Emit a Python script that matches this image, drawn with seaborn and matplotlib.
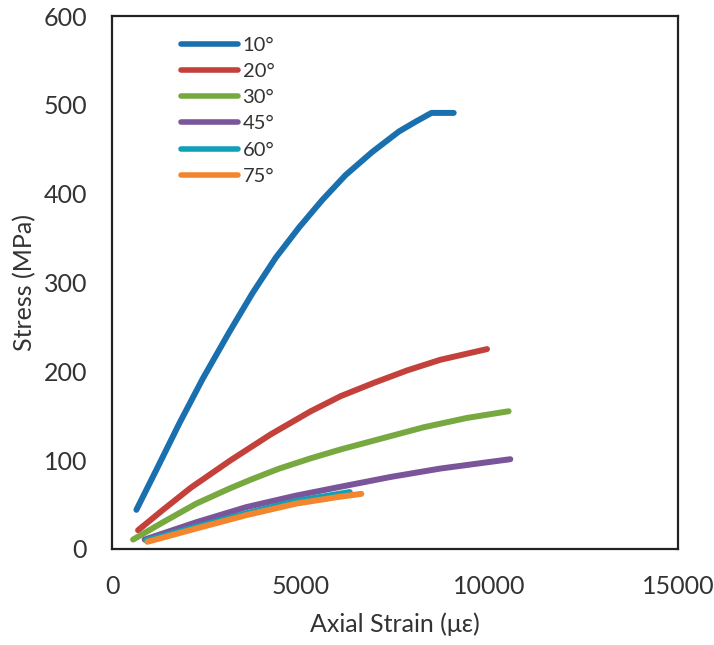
import pandas as pd
import matplotlib
matplotlib.use("Agg")
import matplotlib.pyplot as plt
import seaborn as sns

# values
angles = ["10°", "20°", "30°", "45°", "60°", "75°"]
colors = ["#1a70ae", "#c4403b", "#78a941", "#7b559a", "#12a0b8", "#f3852f"]

strain_10 = [644, 1173, 1790, 2407, 3104, 3721, 4339, 4956, 5573, 6190, 6896, 7602, 8042, 8466, 9056]
stress_10 = [44, 89, 142, 192, 244, 288, 328, 362, 393, 421, 447, 470, 481, 491, 491]

strain_20 = [688, 1349, 2090, 3148, 4206, 5265, 6058, 6940, 7822, 8704, 9939]
stress_20 = [21, 44, 69, 100, 129, 155, 172, 187, 201, 213, 225]

strain_30 = [556, 1349, 2231, 3113, 3677, 4400, 5265, 6058, 7116, 8263, 9409, 10512]
stress_30 = [10.5, 30, 51, 68, 78, 90, 102, 112, 124, 137, 147.5, 155]

strain_45 = [864, 2231, 3554, 4876, 6058, 7381, 8704, 10556]
stress_45 = [10.5, 30, 47, 60, 70, 81, 90.5, 101]

strain_60 = [900, 2231, 3554, 4876, 6300]
stress_60 = [9.5, 25, 40, 54, 64]

strain_75 = [935, 2231, 3554, 4876, 6000, 6606]
stress_75 = [8, 23, 38, 51, 58.5, 62]

strains = [strain_10, strain_20, strain_30, strain_45, strain_60, strain_75]
stresses = [stress_10, stress_20, stress_30, stress_45, stress_60, stress_75]

frames = []
for a, xs, ys in zip(angles, strains, stresses):
    frames.append(pd.DataFrame({"strain": xs, "stress": ys, "angle": a}))
df = pd.concat(frames, ignore_index=True)

sns.set_style("white")
plt.rcParams['font.family'] = ['Lato', 'DejaVu Sans']

fig = plt.figure(figsize=(7.14, 6.45), dpi=100)
ax = fig.add_axes([0.157, 0.149, 0.7925, 0.826])

sns.lineplot(data=df, x="strain", y="stress", hue="angle", hue_order=angles,
             palette=colors, sort=False, estimator=None, linewidth=4.3,
             solid_capstyle="round", solid_joinstyle="round", ax=ax, legend=False)

ax.set_xlim(0, 15000)
ax.set_ylim(0, 600)
ax.set_xticks([0, 5000, 10000, 15000])
ax.set_yticks([0, 100, 200, 300, 400, 500, 600])
ax.tick_params(direction="in", length=6, width=1.2, colors="#222222",
               labelsize=18, labelcolor="#333333")
ax.tick_params(axis="x", pad=19)
ax.tick_params(axis="y", pad=18)
for s in ax.spines.values():
    s.set_visible(True)
    s.set_color("#222222")
    s.set_linewidth(1.6)

ax.set_xlabel("Axial Strain (με)", fontsize=18, color="#333333", labelpad=10)
ax.set_ylabel("Stress (MPa)", fontsize=18, color="#333333", labelpad=5)

handles = [plt.Line2D([], [], color=c, lw=4, solid_capstyle="round") for c in colors]
ax.legend(handles, angles, loc="upper left", bbox_to_anchor=(0.09, 0.995),
          frameon=False, fontsize=14.5, handlelength=2.8, handletextpad=0.25,
          labelspacing=0.45, labelcolor="#333333")

fig.savefig("out.png", dpi=100)
